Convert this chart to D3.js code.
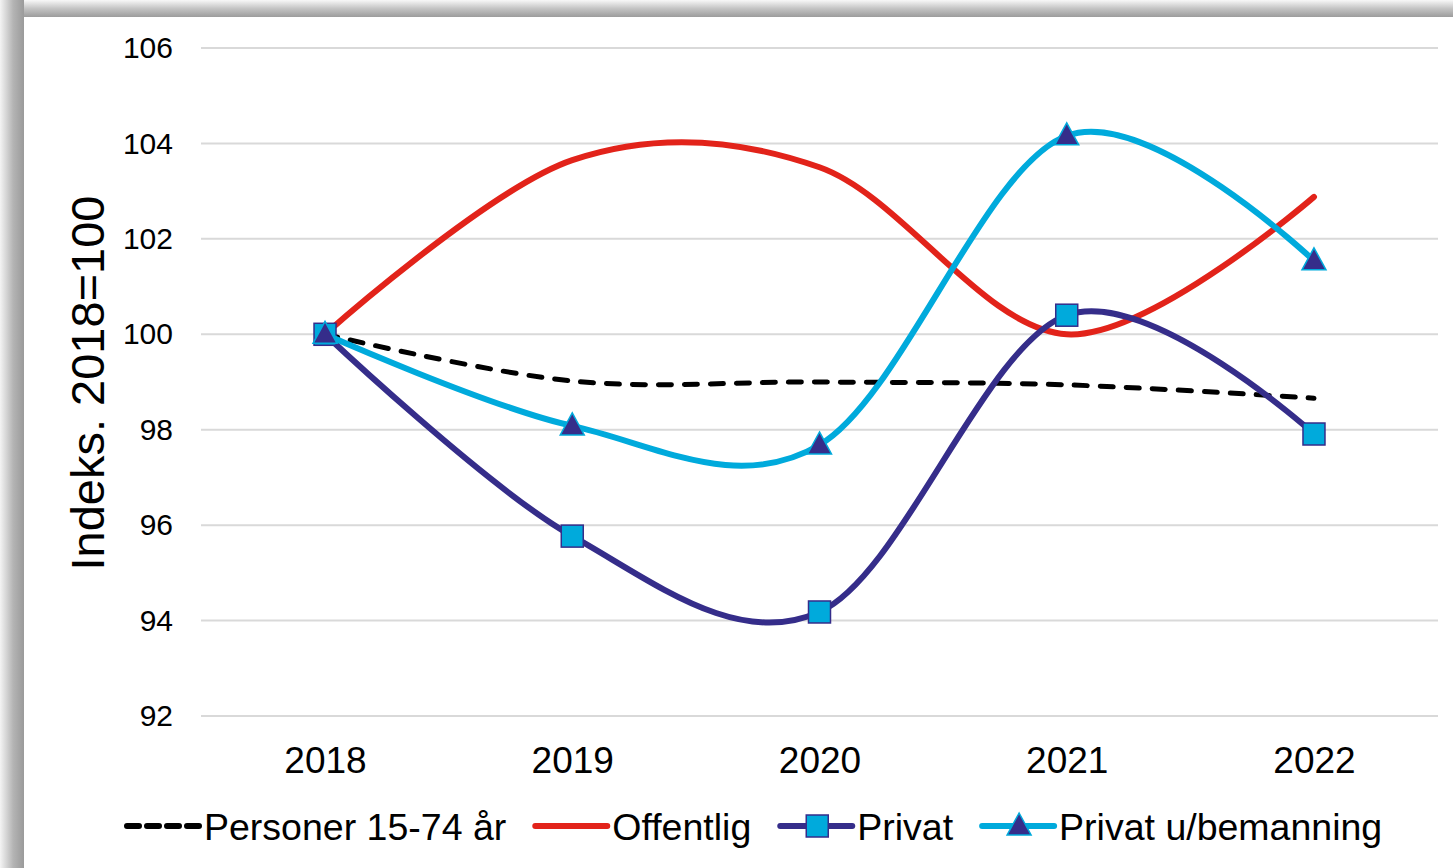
<!DOCTYPE html>
<html>
<head>
  <meta charset="utf-8">
  <style>
    body { margin: 0; background: #fff; }
    text { font-family: "Liberation Sans", Arial, sans-serif; fill: #000; }
    .grid line { stroke: #d9d9d9; stroke-width: 2px; }
  </style>
</head>
<body>
  <svg width="1453" height="868"></svg>
  <script src="https://d3js.org/d3.v7.min.js"></script>
  <script>
    const years = ["2018", "2019", "2020", "2021", "2022"];
    const yTicks = [92, 94, 96, 98, 100, 102, 104, 106];

    const personer = [100, 99.02, 99.0, 98.94, 98.66];
    const offentlig = [100, 103.65, 103.5, 100.0, 102.88];
    const privat = [100, 95.77, 94.18, 100.4, 97.91];
    const privatUBem = [100, 98.08, 97.68, 104.16, 101.54];

    const seriesNames = ["Personer 15-74 år", "Offentlig", "Privat", "Privat u/bemanning"];

    const series = [
      { name: seriesNames[0], values: personer, color: "#000", dash: "13,13", marker: null },
      { name: seriesNames[1], values: offentlig, color: "#e2231a", dash: null, marker: null },
      { name: seriesNames[2], values: privat, color: "#352d8a", dash: null, marker: "square" },
      { name: seriesNames[3], values: privatUBem, color: "#00aadc", dash: null, marker: "triangle" }
    ];

    const svg = d3.select("svg");

    // frame shading (grey border with soft shadow)
    const defs = svg.append("defs");
    const gl = defs.append("linearGradient").attr("id", "gl").attr("x1", 0).attr("x2", 1).attr("y1", 0).attr("y2", 0);
    gl.append("stop").attr("offset", "0%").attr("stop-color", "#f4f4f4");
    gl.append("stop").attr("offset", "55%").attr("stop-color", "#b4b4b4");
    gl.append("stop").attr("offset", "100%").attr("stop-color", "#9a9a9a");
    const gt = defs.append("linearGradient").attr("id", "gt").attr("x1", 0).attr("x2", 0).attr("y1", 0).attr("y2", 1);
    gt.append("stop").attr("offset", "0%").attr("stop-color", "#f8f8f8");
    gt.append("stop").attr("offset", "50%").attr("stop-color", "#c4c4c4");
    gt.append("stop").attr("offset", "100%").attr("stop-color", "#9c9c9c");

    svg.append("rect").attr("x", 0).attr("y", 0).attr("width", 1453).attr("height", 17).attr("fill", "url(#gt)");
    svg.append("rect").attr("x", 0).attr("y", 0).attr("width", 24).attr("height", 868).attr("fill", "url(#gl)");
    svg.append("rect").attr("x", 24).attr("y", 17).attr("width", 1429).attr("height", 851).attr("fill", "#fff");

    const x = d3.scalePoint().domain(years).range([201.4, 1437.6]).padding(0.5);
    const y = d3.scaleLinear().domain([92, 106]).range([716, 48]);

    // gridlines
    svg.append("g").attr("class", "grid")
      .selectAll("line").data(yTicks).join("line")
      .attr("x1", 201).attr("x2", 1438)
      .attr("y1", d => y(d)).attr("y2", d => y(d));

    // y axis labels
    const yAxis = svg.append("g").attr("transform", "translate(173,0)")
      .call(d3.axisLeft(y).tickValues(yTicks).tickSize(0).tickPadding(0));
    yAxis.select(".domain").remove();
    yAxis.selectAll("text").attr("font-size", 30).attr("font-family", "Liberation Sans, Arial, sans-serif").attr("fill", "#000");

    // x axis labels
    const xAxis = svg.append("g").attr("transform", "translate(0,746)")
      .call(d3.axisBottom(x).tickSize(0).tickPadding(0));
    xAxis.select(".domain").remove();
    xAxis.selectAll("text").attr("font-size", 37).attr("font-family", "Liberation Sans, Arial, sans-serif").attr("fill", "#000").attr("dy", "0.72em");

    // axis title
    svg.append("text")
      .attr("transform", "translate(104,383) rotate(-90)")
      .attr("text-anchor", "middle")
      .attr("font-size", 47)
      .text("Indeks. 2018=100");

    const line = d3.line()
      .x((d, i) => x(years[i]))
      .y(d => y(d))
      .curve(d3.curveCardinal.tension(0));

    function drawMarker(g, type, cx, cy) {
      if (type === "square") {
        g.append("rect").attr("x", cx - 11).attr("y", cy - 11).attr("width", 22).attr("height", 22)
          .attr("fill", "#00aadc").attr("stroke", "#352d8a").attr("stroke-width", 1.5);
      } else if (type === "triangle") {
        g.append("path")
          .attr("d", `M${cx},${cy - 13}L${cx + 12},${cy + 9}L${cx - 12},${cy + 9}Z`)
          .attr("fill", "#352d8a").attr("stroke", "#00aadc").attr("stroke-width", 1.5).attr("stroke-linejoin", "miter");
      }
    }

    series.forEach(s => {
      const g = svg.append("g");
      g.append("path")
        .datum(s.values)
        .attr("d", line)
        .attr("fill", "none")
        .attr("stroke", s.color)
        .attr("stroke-width", s.dash ? 5 : 6)
        .attr("stroke-linecap", "round")
        .attr("stroke-dasharray", s.dash);
      if (s.marker) {
        s.values.forEach((v, i) => drawMarker(g, s.marker, x(years[i]), y(v)));
      }
    });

    // legend
    const legend = svg.append("g").attr("transform", "translate(0,826)");
    let lx = 127;
    series.forEach(s => {
      const g = legend.append("g");
      g.append("line")
        .attr("x1", lx).attr("x2", lx + 72).attr("y1", 0).attr("y2", 0)
        .attr("stroke", s.color).attr("stroke-width", 6)
        .attr("stroke-linecap", "round")
        .attr("stroke-dasharray", s.dash ? "12,8" : null);
      if (s.marker) drawMarker(g, s.marker, lx + 37, 0);
      const t = g.append("text")
        .attr("x", lx + 77).attr("y", 0).attr("dy", "0.36em")
        .attr("font-size", 37.5)
        .text(s.name);
      lx += 77 + t.node().getComputedTextLength() + 29;
    });
  </script>
</body>
</html>
